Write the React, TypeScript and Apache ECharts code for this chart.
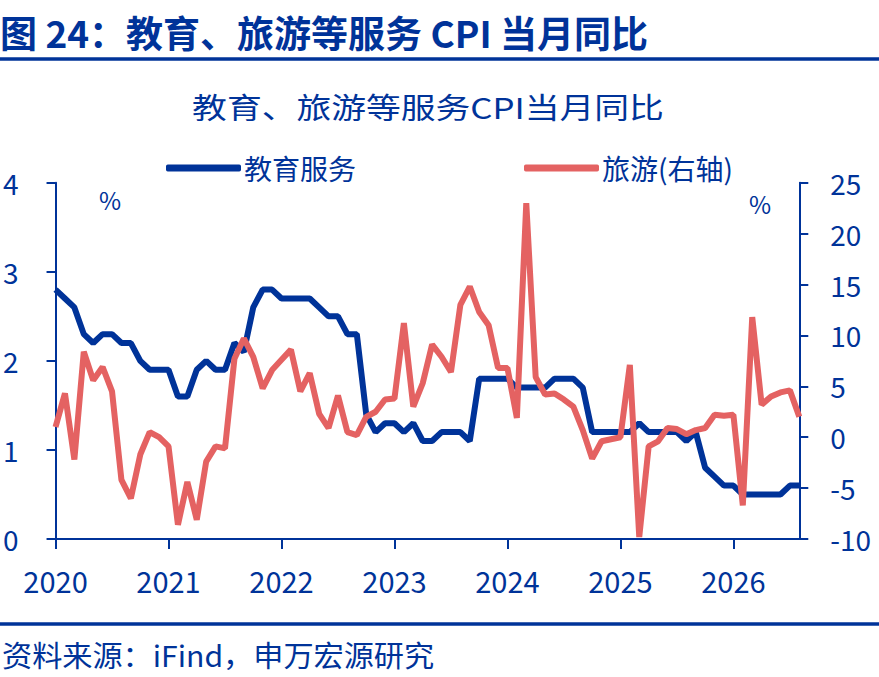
import React, { useEffect, useRef } from "react";
import * as echarts from "echarts";

const years = ["2020", "2021", "2022", "2023", "2024", "2025", "2026"];
const monthsInLastYear = 8;

const education = [
  2.8, 2.7, 2.6, 2.3, 2.2, 2.3, 2.3, 2.2, 2.2, 2.0,
  1.9, 1.9, 1.9, 1.6, 1.6, 1.9, 2.0, 1.9, 1.9, 2.2,
  2.1, 2.6, 2.8, 2.8, 2.7, 2.7, 2.7, 2.7, 2.6, 2.5,
  2.5, 2.3, 2.3, 1.4, 1.2, 1.3, 1.3, 1.2, 1.3, 1.1,
  1.1, 1.2, 1.2, 1.2, 1.1, 1.8, 1.8, 1.8, 1.8, 1.7,
  1.7, 1.7, 1.7, 1.8, 1.8, 1.8, 1.7, 1.2, 1.2, 1.2,
  1.2, 1.2, 1.3, 1.2, 1.2, 1.2, 1.2, 1.1, 1.2, 0.8,
  0.7, 0.6, 0.6, 0.5, 0.5, 0.5, 0.5, 0.5, 0.6, 0.6,
];

const travel = [
  1.0, 4.3, -2.2, 8.4, 5.6, 6.9, 4.5, -4.2, -6.0, -1.7,
  0.5, 0.0, -0.9, -8.6, -4.4, -8.1, -2.4, -0.9, -1.1, 7.7,
  9.7, 7.9, 4.8, 6.6, 7.6, 8.6, 4.5, 6.3, 2.3, 0.9,
  4.1, 0.5, 0.2, 2.0, 2.5, 3.7, 3.8, 11.2, 3.0, 5.3,
  9.1, 7.9, 6.4, 13.0, 14.8, 12.3, 11.0, 6.8, 6.8, 1.9,
  23.0, 5.9, 4.2, 4.3, 3.7, 3.0, 0.7, -2.1, -0.4, -0.2,
  0.0, 7.1, -9.8, -0.9, -0.4, 0.9, 0.8, 0.3, 0.7, 0.9,
  2.2, 2.1, 2.2, -6.7, 11.8, 3.2, 4.0, 4.4, 4.6, 2.0,
];

const seriesNames = ["教育服务", "旅游(右轴)"];
const leftTicks = { min: 0, max: 4, interval: 1 };
const rightTicks = { min: -10, max: 25, interval: 5 };

const DARK = "#003399";
const RED = "#E46262";
const FONT = '"Noto Sans CJK SC", "Noto Sans", sans-serif';

const categories: string[] = [];
years.forEach((y, yi) => {
  const n = yi === years.length - 1 ? monthsInLastYear : 12;
  for (let m = 1; m <= n; m++) categories.push(`${y}-${String(m).padStart(2, "0")}`);
});

export default function App() {
  const ref = useRef<HTMLDivElement>(null);
  useEffect(() => {
    if (!ref.current) return;
    const chart = echarts.init(ref.current, null, { renderer: "svg" });
    const axisCommon = {
      axisLine: { show: true, lineStyle: { color: DARK, width: 2 } },
      axisTick: { show: true, length: 9, lineStyle: { color: DARK, width: 2 } },
      splitLine: { show: false },
    };
    chart.setOption({
      animation: false,
      backgroundColor: "#ffffff",
      grid: { left: 54.3, right: 79.7, top: 182.7, bottom: 138, containLabel: false },
      legend: [
        {
          data: [seriesNames[0]],
          left: 161,
          top: 149,
          icon: "roundRect",
          itemWidth: 75,
          itemHeight: 7,
          textStyle: { color: DARK, fontSize: 28, fontFamily: FONT, padding: [0, 0, 0, -2] },
        },
        {
          data: [seriesNames[1]],
          left: 519,
          top: 149,
          icon: "roundRect",
          itemWidth: 75,
          itemHeight: 7,
          textStyle: { color: DARK, fontSize: 28, fontFamily: FONT, padding: [0, 0, 0, -2] },
        },
      ],
      xAxis: {
        type: "category",
        data: categories,
        boundaryGap: false,
        ...axisCommon,
        axisTick: { show: true, length: 10, interval: (i: number) => i % 12 === 0, lineStyle: { color: DARK, width: 2 } },
        axisLabel: {
          interval: (i: number) => i % 12 === 0,
          formatter: (v: string) => v.slice(0, 4),
          color: DARK,
          fontSize: 29,
          fontFamily: FONT,
          margin: 26,
        },
      },
      yAxis: [
        {
          type: "value",
          ...leftTicks,
          position: "left",
          ...axisCommon,
          axisLabel: { color: DARK, fontSize: 28, fontFamily: FONT, margin: 37 },
        },
        {
          type: "value",
          ...rightTicks,
          position: "right",
          ...axisCommon,
          axisLabel: { color: DARK, fontSize: 28, fontFamily: FONT, margin: 31 },
        },
      ],
      series: [
        {
          name: seriesNames[0],
          type: "line",
          data: education,
          yAxisIndex: 0,
          showSymbol: false,
          symbol: "none",
          itemStyle: { color: DARK },
          lineStyle: { color: DARK, width: 6 },
        },
        {
          name: seriesNames[1],
          type: "line",
          data: travel,
          yAxisIndex: 1,
          showSymbol: false,
          symbol: "none",
          itemStyle: { color: RED },
          lineStyle: { color: RED, width: 6 },
        },
      ],
      graphic: [
        {
          type: "text",
          x: 0,
          y: 32,
          style: {
            text: "图 24：教育、旅游等服务 CPI 当月同比",
            fill: DARK,
            font: `bold 37px ${FONT}`,
            textAlign: "left",
            textVerticalAlign: "middle",
            align: "left",
            verticalAlign: "middle",
          },
        },
        { type: "line", shape: { x1: 0, y1: 59, x2: 879, y2: 59 }, style: { stroke: DARK, lineWidth: 3.3 } },
        {
          type: "text",
          x: 428,
          y: 106,
          scaleX: 1.2,
          style: {
            text: "教育、旅游等服务CPI当月同比",
            fill: DARK,
            font: `29px ${FONT}`,
            textAlign: "center",
            textVerticalAlign: "middle",
            align: "center",
            verticalAlign: "middle",
          },
        },
        {
          type: "text",
          x: 110,
          y: 199,
          style: { text: "%", fill: DARK, font: `24px ${FONT}`, textAlign: "center", textVerticalAlign: "middle", align: "center", verticalAlign: "middle" },
        },
        {
          type: "text",
          x: 760,
          y: 203,
          style: { text: "%", fill: DARK, font: `24px ${FONT}`, textAlign: "center", textVerticalAlign: "middle", align: "center", verticalAlign: "middle" },
        },
        { type: "line", shape: { x1: 0, y1: 624, x2: 879, y2: 624 }, style: { stroke: DARK, lineWidth: 3.3 } },
        {
          type: "text",
          x: 2,
          y: 655,
          scaleX: 1.04,
          style: {
            text: "资料来源：iFind，申万宏源研究",
            fill: DARK,
            font: `29px ${FONT}`,
            textAlign: "left",
            textVerticalAlign: "middle",
            align: "left",
            verticalAlign: "middle",
          },
        },
      ],
    });
    return () => chart.dispose();
  }, []);
  return (
    <div
      ref={ref}
      style={{ position: "fixed", left: 0, top: 0, width: 879, height: 677, background: "#fff" }}
    />
  );
}
